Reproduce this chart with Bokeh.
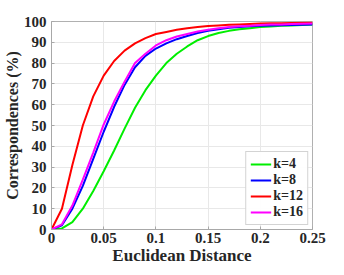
from bokeh.plotting import figure
from bokeh.models import FixedTicker, Legend, LegendItem, Range1d
from bokeh.embed import file_html
from bokeh.resources import INLINE

dist = [0.00, 0.01, 0.02, 0.03, 0.04, 0.05, 0.06, 0.07, 0.08, 0.09, 0.10,
        0.11, 0.12, 0.13, 0.14, 0.15, 0.16, 0.17, 0.18, 0.19, 0.20,
        0.21, 0.22, 0.23, 0.24, 0.25]
k4 = [0, 0.5, 3.5, 10, 18.5, 28, 38, 48.5, 58.5, 67, 74,
      80, 84.5, 88, 91, 93, 94.5, 95.5, 96.3, 96.8, 97.3,
      97.6, 97.9, 98.1, 98.3, 98.5]
k8 = [0, 2, 10, 21, 34, 47, 59, 69.5, 78, 83.5, 87,
      89.5, 91.5, 93, 94.5, 95.5, 96.3, 97, 97.4, 97.7, 98,
      98.1, 98.2, 98.3, 98.4, 98.5]
k12 = [0, 10, 31, 50, 64, 74, 81, 86, 89.5, 92, 94,
       95, 96, 96.8, 97.3, 97.8, 98.1, 98.4, 98.6, 98.8, 99,
       99.1, 99.2, 99.3, 99.4, 99.5]
k16 = [0, 2.5, 11.5, 24, 37, 50.5, 61.5, 71, 80, 84.5, 88.5,
       91, 92.8, 94, 95.2, 96, 96.7, 97.3, 97.7, 98, 98.3,
       98.5, 98.6, 98.8, 98.9, 99]
labels = ["k=4", "k=8", "k=12", "k=16"]
colors = ["#00ee00", "#0000ff", "#ff0000", "#ff00ff"]
x_ticks = [0, 0.05, 0.1, 0.15, 0.2, 0.25]
y_ticks = [0, 10, 20, 30, 40, 50, 60, 70, 80, 90, 100]

FONT = "Liberation Serif"

p = figure(width=336, height=267, output_backend="svg", toolbar_location=None,
           x_range=Range1d(0, 0.25), y_range=Range1d(0, 100),
           min_border_left=50, min_border_right=24, min_border_top=21,
           min_border_bottom=36)
p.outline_line_color = "#b0b0b0"
p.outline_line_width = 1
p.background_fill_color = "white"

renderers = []
for ys, c in zip([k4, k8, k12, k16], colors):
    r = p.line(dist, ys, line_color=c, line_width=2)
    renderers.append(r)

for ax in (p.xaxis[0], p.yaxis[0]):
    ax.major_label_text_font = FONT
    ax.major_label_text_font_style = "bold"
    ax.major_label_text_font_size = "15px"
    ax.major_label_text_color = "#262626"
    ax.axis_label_text_font = FONT
    ax.axis_label_text_font_style = "bold"
    ax.axis_label_text_font_size = "17px"
    ax.axis_label_text_color = "#262626"
    ax.axis_line_color = "#a8a8a8"
    ax.major_tick_line_color = "#a8a8a8"
    ax.major_tick_in = 3
    ax.major_tick_out = 0
    ax.minor_tick_line_color = None
    ax.major_label_standoff = 3
    ax.axis_label_standoff = 0

p.yaxis[0].axis_label_text_font_size = "16px"
p.yaxis[0].major_label_standoff = 5
p.xaxis[0].ticker = FixedTicker(ticks=x_ticks)
p.yaxis[0].ticker = FixedTicker(ticks=y_ticks)
p.xaxis[0].major_label_overrides = {0: "0", 0.05: "0.05", 0.1: "0.1", 0.15: "0.15", 0.2: "0.2", 0.25: "0.25"}
p.xaxis[0].axis_label = "Euclidean Distance"
p.yaxis[0].axis_label = "Correspondences (%)"

p.xgrid.ticker = FixedTicker(ticks=x_ticks)
p.ygrid.ticker = FixedTicker(ticks=y_ticks)
p.grid.grid_line_color = "#e8e8e8"

legend = Legend(items=[LegendItem(label=l, renderers=[r]) for l, r in zip(labels, renderers)],
                location="bottom_right")
legend.label_text_font = FONT
legend.label_text_font_style = "bold"
legend.label_text_font_size = "14px"
legend.label_text_color = "#262626"
legend.border_line_color = "#a8a8a8"
legend.glyph_width = 21
legend.glyph_height = 14
legend.label_height = 14
legend.spacing = 0
legend.padding = 4
legend.margin = 4
legend.label_standoff = 2
p.add_layout(legend, "center")

open("out.html", "w").write(file_html(p, INLINE))
